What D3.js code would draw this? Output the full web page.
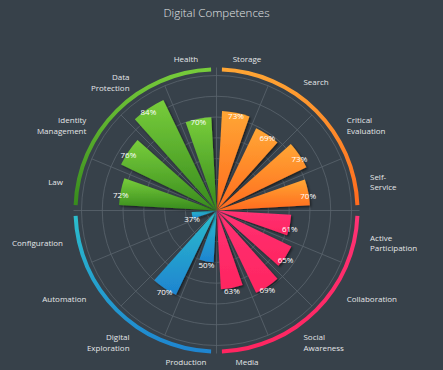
<!DOCTYPE html>
<html>
<head>
    <title>Digital Competences</title>
    <meta charset="UTF-8">
    <script type="text/javascript" src="https://cdn.jsdelivr.net/npm/d3@7/dist/d3.min.js"></script>
    <style>
        body { margin: 0; background: #37414a; }
        svg { display: block; }
        text { font-family: "Open Sans", "Noto Sans", sans-serif; }
    </style>
</head>
<body>
<svg class="chart" width="443" height="370"></svg>
<script type="text/javascript">
    // categories clockwise from 12 o'clock, "\n" marks a line break in the label
    var categories = [
        "Storage", "Search", "Critical\nEvaluation", "Self-\nService",
        "Active\nParticipation", "Collaboration", "Social\nAwareness", "Media",
        "Production", "Digital\nExploration", "Automation", "Configuration",
        "Law", "Identity\nManagement", "Data\nProtection", "Health"
    ];

    // percent per category, null = no bar
    var values = [73, 69, 73, 70, 61, 65, 69, 63, 50, 70, null, 37, 72, 76, 84, 70];

    // one group per quarter, four categories each
    var groups = ["orange", "pink", "blue", "green"];
    var groupColors = {
        orange: ["#ffa634", "#ff6a1e"],
        pink:   ["#ff3274", "#ff2560"],
        blue:   ["#2bbdcc", "#1e84d0"],
        green:  ["#78cd3b", "#378a1d"]
    };

    var gridTicks = [30, 40, 50, 60, 70, 80, 90];

    var svg = d3.select(".chart");
    var cx = 216.5, cy = 210.5;
    var n = categories.length;
    var step = 2 * Math.PI / n;

    var r = d3.scaleLinear().domain([25, 90]).range([0, 135]).clamp(true);
    var arcR = 141;

    svg.append("text")
        .attr("x", cx)
        .attr("y", 17)
        .attr("text-anchor", "middle")
        .attr("font-size", 11.5)
        .attr("font-weight", 300)
        .attr("fill", "#e2e4e6")
        .text("Digital Competences");

    var defs = svg.append("defs");

    // top-to-bottom gradient on every shape
    groups.forEach(function (g) {
        var grad = defs.append("linearGradient")
            .attr("id", "grad-" + g)
            .attr("x1", 0).attr("x2", 0)
            .attr("y1", 0).attr("y2", 1);
        grad.append("stop").attr("offset", "0%").attr("stop-color", groupColors[g][0]);
        grad.append("stop").attr("offset", "100%").attr("stop-color", groupColors[g][1]);
    });

    var shadow = defs.append("filter")
        .attr("id", "shadow")
        .attr("x", "-20%").attr("y", "-20%")
        .attr("width", "140%").attr("height", "140%");
    shadow.append("feDropShadow")
        .attr("dx", 1.5).attr("dy", 1.5)
        .attr("stdDeviation", 1.2)
        .attr("flood-color", "#000")
        .attr("flood-opacity", 0.55);

    var chart = svg.append("g").attr("transform", "translate(" + cx + "," + cy + ")");

    // grid circles
    chart.selectAll("circle.grid")
        .data(gridTicks)
        .enter()
        .append("circle")
        .attr("class", "grid")
        .attr("r", function (d) { return r(d); })
        .attr("fill", "none")
        .attr("stroke", "#5b646d")
        .attr("stroke-width", 0.8);

    // spokes, the four axes a bit longer
    chart.selectAll("line.spoke")
        .data(d3.range(n))
        .enter()
        .append("line")
        .attr("class", "spoke")
        .attr("x1", 0).attr("y1", 0)
        .attr("x2", function (i) {
            var len = i % 4 === 0 ? arcR + 2 : r(90);
            return len * Math.sin(i * step);
        })
        .attr("y2", function (i) {
            var len = i % 4 === 0 ? arcR + 2 : r(90);
            return -len * Math.cos(i * step);
        })
        .attr("stroke", "#5b646d")
        .attr("stroke-width", 0.8);

    // coloured quarter arcs
    var pad = 2.2 * Math.PI / 180;
    var ring = d3.arc()
        .innerRadius(arcR - 2)
        .outerRadius(arcR + 2);
    chart.selectAll("path.ring")
        .data(groups)
        .enter()
        .append("path")
        .attr("class", "ring")
        .attr("d", function (g, i) {
            return ring({ startAngle: i * Math.PI / 2 + pad, endAngle: (i + 1) * Math.PI / 2 - pad });
        })
        .attr("fill", function (g) { return "url(#grad-" + g + ")"; });

    // bars
    var rows = categories.map(function (c, i) {
        return { name: c, value: values[i], index: i, group: groups[Math.floor(i / 4)] };
    });
    var barPad = 3.2 * Math.PI / 180;
    var bar = d3.arc()
        .innerRadius(0)
        .outerRadius(function (d) { return r(d.value); })
        .startAngle(function (d) { return d.index * step + barPad; })
        .endAngle(function (d) { return (d.index + 1) * step - barPad; });

    var filled = rows.filter(function (d) { return d.value != null; });

    chart.selectAll("path.bar")
        .data(filled)
        .enter()
        .append("path")
        .attr("class", "bar")
        .attr("d", bar)
        .attr("fill", function (d) { return "url(#grad-" + d.group + ")"; })
        .attr("filter", "url(#shadow)");

    // value labels at the end of each bar
    chart.selectAll("text.value")
        .data(filled)
        .enter()
        .append("text")
        .attr("class", "value")
        .attr("x", function (d) { return r(d.value) * Math.sin((d.index + 0.5) * step); })
        .attr("y", function (d) { return -r(d.value) * Math.cos((d.index + 0.5) * step) + 3; })
        .attr("text-anchor", "middle")
        .attr("dominant-baseline", "central")
        .attr("font-size", 8)
        .attr("fill", "#ffffff")
        .text(function (d) { return d.value + "%"; });

    // category labels
    var labelR = 156.5;
    var labels = chart.selectAll("text.cat")
        .data(rows)
        .enter()
        .append("text")
        .attr("class", "cat")
        .attr("font-size", 8)
        .attr("fill", "#e4e6e8")
        .attr("text-anchor", function (d) {
            var s = Math.sin((d.index + 0.5) * step);
            if (s > 0.3) return "start";
            if (s < -0.3) return "end";
            return "middle";
        })
        .attr("transform", function (d) {
            var a = (d.index + 0.5) * step;
            var shift = Math.cos(a) < -0.9 ? -2.5 : 1.5;
            return "translate(" + (labelR * Math.sin(a)) + "," + (-labelR * Math.cos(a) + shift) + ")";
        });

    labels.each(function (d) {
        var lines = d.name.split("\n");
        var lh = 10.8;
        d3.select(this).selectAll("tspan")
            .data(lines)
            .enter()
            .append("tspan")
            .attr("x", 0)
            .attr("y", function (l, j) { return (j - (lines.length - 1) / 2) * lh; })
            .attr("dominant-baseline", "central")
            .text(function (l) { return l; });
    });
</script>
</body>
</html>
